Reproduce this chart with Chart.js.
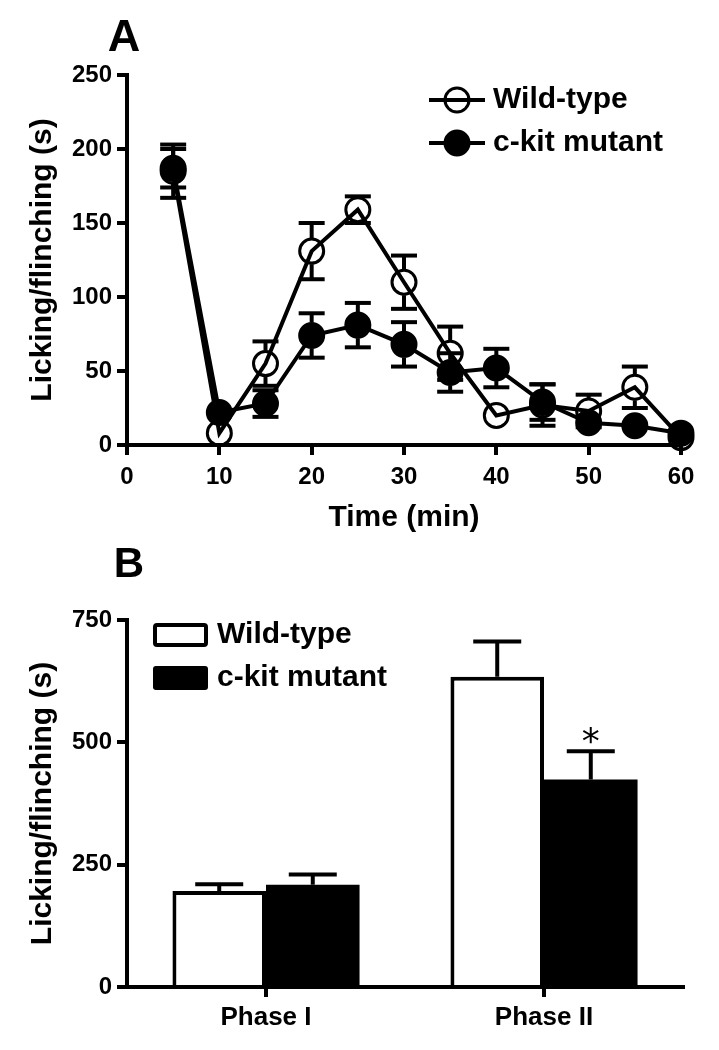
<!DOCTYPE html>
<html>
<head>
<meta charset="utf-8">
<script src="https://cdn.jsdelivr.net/npm/chart.js@4.4.0/dist/chart.umd.min.js"></script>
<style>
html,body{margin:0;padding:0;background:#fff;}
body{width:719px;height:1050px;position:relative;overflow:hidden;}
#cA{position:absolute;left:0;top:0;}
#cB{position:absolute;left:0;top:535px;}
</style>
</head>
<body>
<canvas id="cA" width="719" height="540"></canvas>
<canvas id="cB" width="719" height="515"></canvas>
<script>
// ---------------- data ----------------
const seriesNames = ['Wild-type', 'c-kit mutant'];

// Panel A: time course
const timePoints   = [5, 10, 15, 20, 25, 30, 35, 40, 45, 50, 55, 60];
const wildTypeMean = [185, 8, 55, 131, 159, 110, 62, 20, 27, 23, 39, 5];
const wildTypeSem  = [18, 3, 15, 19, 9, 18, 18, 4, 14, 11, 14, 3];
const mutantMean   = [187, 22, 28, 74, 81, 68, 49, 52, 29, 15, 13, 8];
const mutantSem    = [13, 4, 9, 15, 15, 15, 13, 13, 12, 8, 8, 3];
const timeTicks    = [0, 10, 20, 30, 40, 50, 60];
const countTicksA  = [0, 50, 100, 150, 200, 250];

// Panel B: phase totals
const phases           = ['Phase I', 'Phase II'];
const wildTypeTotal    = [196, 634];
const wildTypeTotalSem = [14, 72];
const mutantTotal      = [209, 424];
const mutantTotalSem   = [21, 58];
const mutantMarks      = ['', '*'];
const countTicksB      = [0, 250, 500, 750];

// ---------------- styling helpers ----------------
const FONT = "'Liberation Sans', Arial, Helvetica, sans-serif";
Chart.defaults.font.family = FONT;
Chart.defaults.color = '#000';

const tickFont  = {family: FONT, size: 24, weight: 'bold', lineHeight: 1.2};
const catFont   = {family: FONT, size: 26, weight: 'bold', lineHeight: 1.2};
const titleFont = {family: FONT, size: 30, weight: 'bold', lineHeight: 1.2};

function line(ctx, x1, y1, x2, y2) {
  ctx.beginPath(); ctx.moveTo(x1, y1); ctx.lineTo(x2, y2); ctx.stroke();
}
function drawCentered(ctx, text, cx, cy) {
  ctx.textAlign = 'center';
  ctx.textBaseline = 'alphabetic';
  const m = ctx.measureText(text);
  const off = (m.actualBoundingBoxAscent - m.actualBoundingBoxDescent) / 2;
  ctx.fillText(text, cx, cy + off);
}
function fixedTicks(arr) {
  return scale => { scale.ticks = arr.map(v => ({value: v})); };
}
function axis(extra) {
  return Object.assign({
    border: {display: true, color: '#000', width: 4},
    grid: {display: true, drawOnChartArea: false, drawTicks: true, tickLength: 10,
           tickWidth: 4, tickColor: '#000', color: '#000', lineWidth: 4},
  }, extra);
}

// ---------------- plugins ----------------
const errorBars = {
  id: 'errorBars',
  beforeDatasetsDraw(chart, a, o) { if (o.layer === 'before') drawErr(chart, o); },
  afterDatasetsDraw(chart, a, o) { if (o.layer !== 'before') drawErr(chart, o); }
};
function drawErr(chart, o) {
  const ctx = chart.ctx;
  ctx.save();
  ctx.strokeStyle = '#000';
  ctx.fillStyle = '#000';
  ctx.lineCap = 'butt';
  chart.data.datasets.forEach((ds, di) => {
    if (!ds.errors) return;
    const meta = chart.getDatasetMeta(di);
    const ys = chart.scales[meta.yAxisID];
    meta.data.forEach((el, i) => {
      const raw = ds.data[i];
      const v = (typeof raw === 'object') ? raw.y : raw;
      const e = ds.errors[i];
      const x = el.x;
      const y = ys.getPixelForValue(v);
      const dirs = o.bothSides ? [1, -1] : [1];
      let capTop = y;
      dirs.forEach(d => {
        const end = ys.getPixelForValue(v + d * e);
        const start = y - d * o.gap;
        if (d === 1) capTop = end;
        if ((start - end) * d <= 0) return;
        ctx.lineWidth = o.stemWidth;
        line(ctx, x, start, x, end);
        ctx.lineWidth = o.capThickness;
        line(ctx, x - o.capWidth / 2, end, x + o.capWidth / 2, end);
      });
      if (ds.marks && ds.marks[i]) {
        ctx.font = o.markFont;
        drawCentered(ctx, ds.marks[i], x, capTop - o.markOffset);
      }
    });
  });
  ctx.restore();
}

function roundRect(ctx, x, y, w, h, r) {
  ctx.beginPath();
  ctx.moveTo(x + r, y);
  ctx.arcTo(x + w, y, x + w, y + h, r);
  ctx.arcTo(x + w, y + h, x, y + h, r);
  ctx.arcTo(x, y + h, x, y, r);
  ctx.arcTo(x, y, x + w, y, r);
  ctx.closePath();
}

const insetLegend = {
  id: 'insetLegend',
  afterDraw(chart, a, o) {
    const ctx = chart.ctx;
    ctx.save();
    chart.data.datasets.forEach((ds, i) => {
      const y = o.y + i * o.rowGap;
      ctx.strokeStyle = '#000';
      if (o.kind === 'line') {
        ctx.lineWidth = ds.borderWidth;
        line(ctx, o.x, y, o.x + o.symbolWidth, y);
        ctx.beginPath();
        ctx.arc(o.x + o.symbolWidth / 2, y, ds.pointRadius, 0, Math.PI * 2);
        ctx.fillStyle = ds.pointBackgroundColor;
        ctx.fill();
        ctx.lineWidth = ds.pointBorderWidth;
        ctx.stroke();
      } else {
        const bw = ds.borderWidth || 0;
        ctx.fillStyle = ds.backgroundColor;
        roundRect(ctx, o.x, y - o.boxHeight / 2, o.symbolWidth, o.boxHeight, 3);
        ctx.fill();
        if (bw) {
          ctx.lineWidth = bw;
          roundRect(ctx, o.x + bw / 2, y - o.boxHeight / 2 + bw / 2, o.symbolWidth - bw, o.boxHeight - bw, 2);
          ctx.stroke();
        }
      }
      ctx.fillStyle = '#000';
      ctx.font = `bold ${o.fontSize}px ${FONT}`;
      ctx.textAlign = 'left';
      ctx.textBaseline = 'middle';
      ctx.fillText(ds.label, o.x + o.symbolWidth + o.textGap, y);
    });
    ctx.restore();
  }
};

const panelLetter = {
  id: 'panelLetter',
  afterDraw(chart, a, o) {
    const ctx = chart.ctx;
    ctx.save();
    ctx.fillStyle = '#000';
    ctx.font = `bold ${o.size}px ${FONT}`;
    drawCentered(ctx, o.text, o.x, o.y);
    ctx.restore();
  }
};

// ---------------- Panel A ----------------
new Chart(document.getElementById('cA'), {
  type: 'line',
  data: {
    datasets: [
      {
        label: seriesNames[0],
        data: timePoints.map((t, i) => ({x: t, y: wildTypeMean[i]})),
        errors: wildTypeSem,
        borderColor: '#000', borderWidth: 4, tension: 0, clip: false,
        pointRadius: 12, pointBorderWidth: 3,
        pointBackgroundColor: 'rgba(255,255,255,0)', pointBorderColor: '#000',
        order: 1
      },
      {
        label: seriesNames[1],
        data: timePoints.map((t, i) => ({x: t, y: mutantMean[i]})),
        errors: mutantSem,
        borderColor: '#000', borderWidth: 4, tension: 0, clip: false,
        pointRadius: 12, pointBorderWidth: 3,
        pointBackgroundColor: '#000', pointBorderColor: '#000',
        order: 0
      }
    ]
  },
  options: {
    responsive: false, animation: false,
    layout: {padding: {top: 75, right: 38, bottom: 0, left: 0}},
    scales: {
      x: axis({
        type: 'linear', min: 0, max: 60,
        afterBuildTicks: fixedTicks(timeTicks),
        ticks: {font: tickFont, color: '#000', padding: 8, maxRotation: 0, autoSkip: false},
        title: {display: true, text: 'Time (min)', font: titleFont, color: '#000', padding: {top: 0, bottom: 4}},
        afterFit: s => { s.height = 95; }
      }),
      y: axis({
        min: 0, max: 250,
        afterBuildTicks: fixedTicks(countTicksA),
        ticks: {font: tickFont, color: '#000', padding: 5},
        title: {display: true, text: 'Licking/flinching (s)', font: titleFont, color: '#000', padding: {top: 25, bottom: 0}},
        afterFit: s => { s.width = 127; }
      })
    },
    plugins: {
      legend: {display: false},
      tooltip: {enabled: false},
      errorBars: {layer: 'before', bothSides: true, gap: 13, stemWidth: 4, capThickness: 4, capWidth: 26},
      insetLegend: {kind: 'line', x: 429, y: 100, rowGap: 43, symbolWidth: 56, textGap: 8, fontSize: 30},
      panelLetter: {text: 'A', x: 124, y: 35, size: 45}
    }
  },
  plugins: [errorBars, insetLegend, panelLetter]
});

// ---------------- Panel B ----------------
new Chart(document.getElementById('cB'), {
  type: 'bar',
  data: {
    labels: phases,
    datasets: [
      {
        label: seriesNames[0],
        data: wildTypeTotal,
        errors: wildTypeTotalSem,
        backgroundColor: '#fff', borderColor: '#000', borderWidth: 4, borderSkipped: 'start',
        barPercentage: 1, categoryPercentage: 0.673
      },
      {
        label: seriesNames[1],
        data: mutantTotal,
        errors: mutantTotalSem,
        marks: mutantMarks,
        backgroundColor: '#000', borderColor: '#000', borderWidth: 0,
        barPercentage: 1, categoryPercentage: 0.673
      }
    ]
  },
  options: {
    responsive: false, animation: false,
    layout: {padding: {top: 85, right: 36, bottom: 0, left: 0}},
    scales: {
      x: axis({
        type: 'category', offset: true,
        grid: {display: true, offset: false, drawOnChartArea: false, drawTicks: true, tickLength: 10,
               tickWidth: 4, tickColor: '#000', color: '#000', lineWidth: 4},
        ticks: {font: catFont, color: '#000', padding: 5, maxRotation: 0, autoSkip: false},
        afterFit: s => { s.height = 63; }
      }),
      y: axis({
        min: 0, max: 750,
        afterBuildTicks: fixedTicks(countTicksB),
        ticks: {font: tickFont, color: '#000', padding: 5},
        title: {display: true, text: 'Licking/flinching (s)', font: titleFont, color: '#000', padding: {top: 25, bottom: 0}},
        afterFit: s => { s.width = 127; }
      })
    },
    plugins: {
      legend: {display: false},
      tooltip: {enabled: false},
      errorBars: {layer: 'after', bothSides: false, gap: 0, stemWidth: 4, capThickness: 4, capWidth: 48,
                  markFont: `36px 'DejaVu Sans', sans-serif`, markOffset: 16},
      insetLegend: {kind: 'bar', x: 153, y: 100, rowGap: 43, symbolWidth: 55, boxHeight: 24, textGap: 9, fontSize: 30},
      panelLetter: {text: 'B', x: 129, y: 27, size: 42}
    }
  },
  plugins: [errorBars, insetLegend, panelLetter]
});
</script>
</body>
</html>
